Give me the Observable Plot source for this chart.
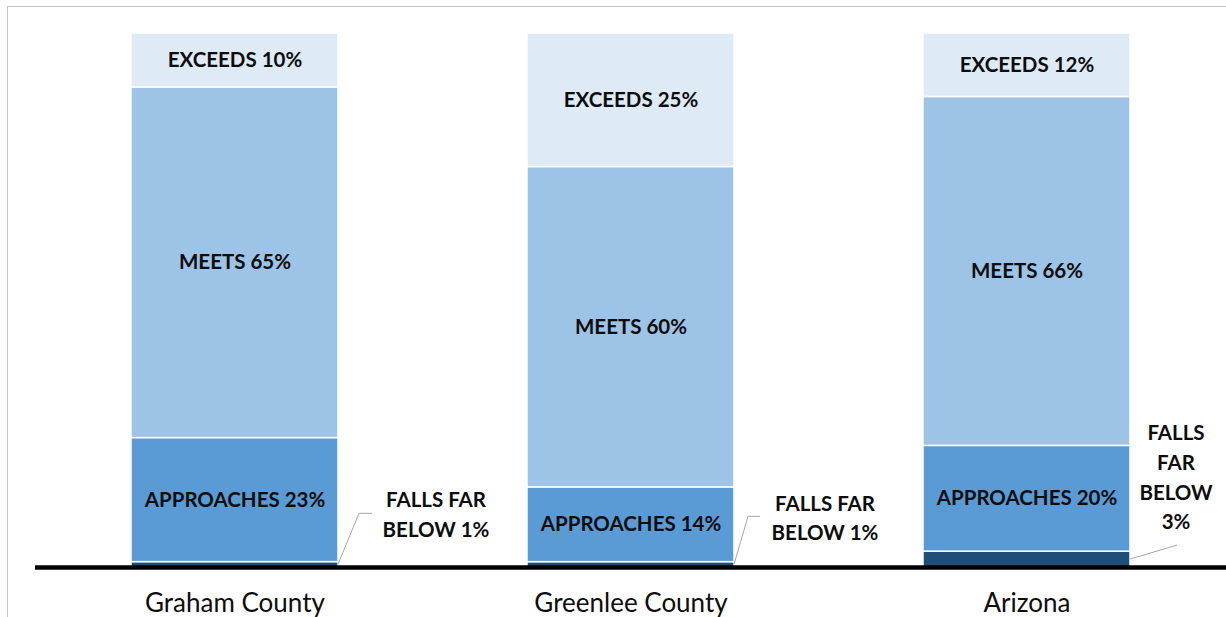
<!DOCTYPE html>
<html>
<head>
<meta charset="utf-8">
<script src="https://cdn.jsdelivr.net/npm/d3@7"></script>
<script src="https://cdn.jsdelivr.net/npm/@observablehq/plot@0.6"></script>
<style>
  html, body { margin: 0; padding: 0; background: #fff; overflow: hidden; }
  #wrap { position: relative; width: 1226px; height: 617px; }
  #frame { position: absolute; left: 7px; top: 6px; right: -2px; bottom: -2px;
           border-left: 1px solid #c6c6c6; border-top: 1px solid #c6c6c6; pointer-events: none; }
  #chart { position: absolute; left: 0; top: 0; }
</style>
</head>
<body>
<div id="wrap"><div id="chart"></div><div id="frame"></div></div>
<script>
// ---- data ----
const categories = ["Graham County", "Greenlee County", "Arizona"];
const levels = ["FALLS FAR BELOW", "APPROACHES", "MEETS", "EXCEEDS"];
const fallsFarBelow = [1, 1, 3];
const approaches = [23, 14, 20];
const meets = [65, 60, 66];
const exceeds = [10, 25, 12];
const levelColors = ["#1F4E79", "#5B9BD5", "#9DC3E6", "#DEEBF7"];
const ffbLabelLines = [["FALLS FAR", "BELOW 1%"], ["FALLS FAR", "BELOW 1%"], ["FALLS", "FAR", "BELOW", "3%"]];

// ---- table built from arrays ----
const series = [fallsFarBelow, approaches, meets, exceeds];
const rows = [];
categories.forEach((c, i) => {
  levels.forEach((l, j) => rows.push({category: c, level: l, value: series[j][i]}));
});

// ---- annotation layout for the small "falls far below" labels (px offsets) ----
const leaderLayout = [
  {elbow: [21, -51], end: 34, textDx: 98, firstLineDy: -64},
  {elbow: [14, -48], end: 26, textDx: 91, firstLineDy: -61},
  {elbow: [47, -14], end: 47, textDx: 46, firstLineDy: -126}
];

const font = "Lato, 'Open Sans', sans-serif";
const labelSize = 20.5;

function ffbAnnotations(index, scales) {
  const x = scales.x, y = scales.y;
  const bw = typeof x.bandwidth === "function" ? x.bandwidth() : x.bandwidth;
  const g = d3.create("svg:g");
  categories.forEach((c, i) => {
    const total = series.reduce((s, arr) => s + arr[i], 0);
    const xr = x(c) + bw;
    const ym = y(fallsFarBelow[i] / 2 / total);
    const L = leaderLayout[i];
    const pts = [[xr, ym], [xr + L.elbow[0], ym + L.elbow[1]], [xr + L.end, ym + L.elbow[1]]];
    g.append("path")
      .attr("d", d3.line()(pts))
      .attr("fill", "none")
      .attr("stroke", "#a6a6a6")
      .attr("stroke-width", 1);
    const t = g.append("text")
      .attr("text-anchor", "middle")
      .attr("font-family", font)
      .attr("font-weight", "bold")
      .attr("font-size", labelSize)
      .attr("fill", "#0d0d0d");
    ffbLabelLines[i].forEach((line, k) => {
      t.append("tspan")
        .attr("x", xr + L.textDx)
        .attr("y", ym + L.firstLineDy + k * 29.7)
        .attr("dy", "0.35em")
        .text(line);
    });
  });
  return g.node();
}

const chart = Plot.plot({
  width: 1226,
  height: 617,
  marginLeft: 35,
  marginRight: 0,
  marginTop: 33,
  marginBottom: 50,
  style: {fontFamily: font, background: "transparent"},
  x: {domain: categories, paddingInner: 0.477, paddingOuter: 0.242, label: null},
  y: {domain: [0, 1], axis: null},
  color: {domain: levels, range: levelColors},
  marks: [
    Plot.barY(rows, Plot.stackY({
      x: "category", y: "value", fill: "level", offset: "normalize",
      stroke: "white", strokeWidth: 1.5
    })),
    Plot.text(rows, Plot.stackY({
      x: "category", y: "value", z: "level", offset: "normalize",
      text: d => d.level === "FALLS FAR BELOW" ? "" : `${d.level} ${d.value}%`,
      fontSize: labelSize, fontWeight: "bold", fill: "#0d0d0d"
    })),
    Plot.ruleY([0], {stroke: "black", strokeWidth: 4.5}),
    Plot.axisX({tickSize: 0, tickPadding: 26, fontSize: 26, fill: "#0d0d0d", label: null}),
    ffbAnnotations
  ]
});
document.getElementById("chart").appendChild(chart);
</script>
</body>
</html>
